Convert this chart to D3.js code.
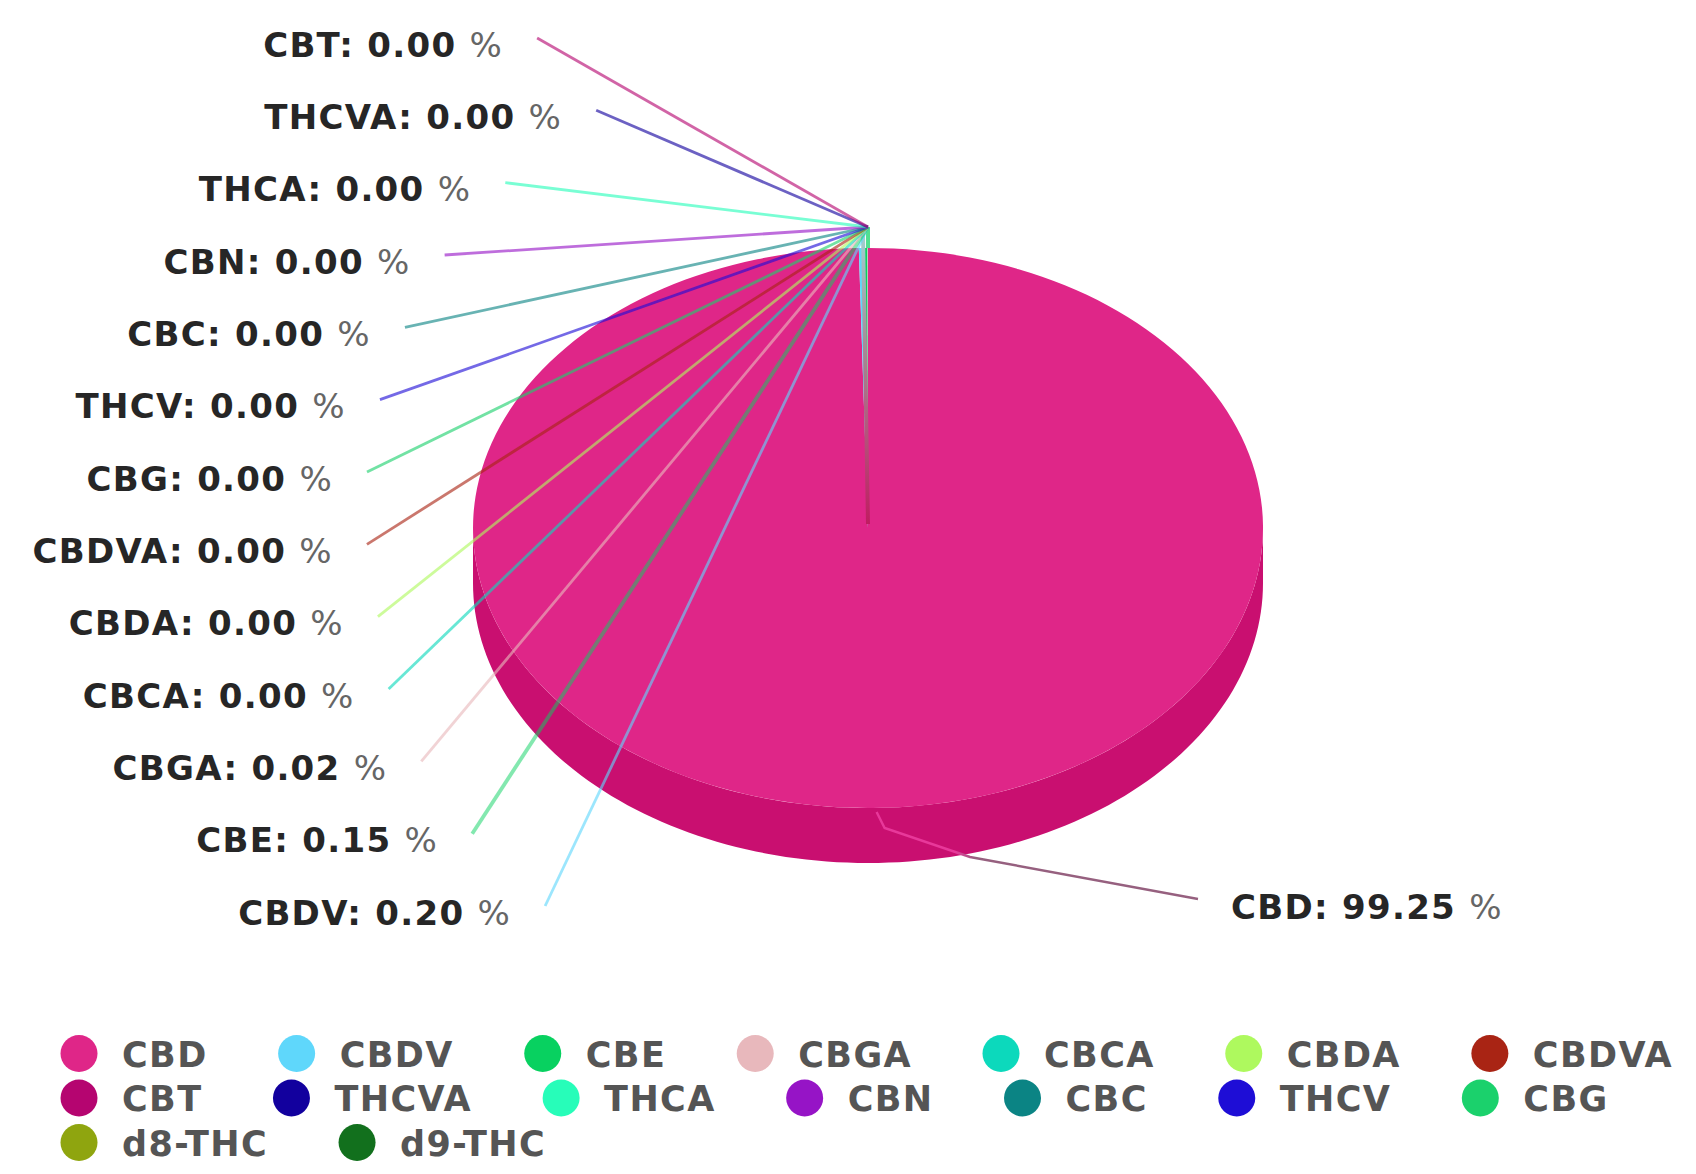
<!DOCTYPE html>
<html>
<head>
<meta charset="utf-8">
<script src="https://d3js.org/d3.v7.min.js"></script>
<style>
  html, body { margin: 0; padding: 0; background: #fff; }
</style>
</head>
<body>
<div id="chart"></div>
<script>
// Cannabinoid shares, in slice order
var names = ["CBD", "CBDV", "CBE", "CBGA", "CBCA", "CBDA", "CBDVA", "CBT", "THCVA", "THCA", "CBN", "CBC", "THCV", "CBG", "d8-THC", "d9-THC"];
var values = [99.25, 0.20, 0.15, 0.02, 0, 0, 0, 0, 0, 0, 0, 0, 0, 0, 0, 0];
var colors = ["#df2688", "#5fd7fb", "#08d160", "#e8b8bc", "#0cd9bc", "#aef95e", "#a92414", "#b50570", "#12009e", "#27fdb9", "#9614c6", "#0b8484", "#1e0dd6", "#1bd16c", "#8fa50f", "#12701d"];
// labels run down the left side, top to bottom
var leftLabels = ["CBT", "THCVA", "THCA", "CBN", "CBC", "THCV", "CBG", "CBDVA", "CBDA", "CBCA", "CBGA", "CBE", "CBDV"];

var width = 1696;
var height = 1174;

// pie geometry
var cx = 868, cy = 528, rx = 395, ry = 280, depth = 55;

var svg = d3.select("#chart")
  .append("svg")
    .attr("width", width)
    .attr("height", height)
    .style("display", "block");

var defs = svg.append("defs");

var color = d3.scaleOrdinal().domain(names).range(colors);

var slices = d3.pie().sort(null).value(function(d) { return d.value; })(
  names.map(function(n, i) { return { name: n, value: values[i] }; })
);
var sliceByName = {};
slices.forEach(function(s) { sliceByName[s.data.name] = s; });

// point on the ellipse, angle 0 is at the top, going clockwise
function project(angle, k) {
  return [cx + Math.sin(angle) * rx * k, cy - Math.cos(angle) * ry * k];
}

// Front wall of the pie
var line = d3.line();
slices.forEach(function(s) {
  var a0 = Math.max(s.startAngle, Math.PI / 2);
  var a1 = Math.min(s.endAngle, Math.PI * 1.5);
  if (a1 <= a0) return;
  var rim = d3.range(0, 121).map(function(i) { return project(a0 + (a1 - a0) * i / 120, 1); });
  var low = rim.map(function(p) { return [p[0], p[1] + depth]; }).reverse();
  svg.append("path")
    .attr("d", line(rim.concat(low)) + "Z")
    .attr("fill", "#c90f70");
});

// Top face
var arc = d3.arc().innerRadius(0).outerRadius(rx);
svg.append("g")
    .attr("transform", "translate(" + cx + "," + cy + ") scale(1," + (ry / rx) + ")")
  .selectAll("path")
  .data(slices)
  .join("path")
    .attr("d", arc)
    .attr("fill", function(d) { return color(d.data.name); });

// Label column on the left
var labelY = d3.scalePoint().domain(leftLabels).range([38, 906]);
var columnMid = 472, columnA = 501, columnB = 578;
// how far each label sits off the plain curve of the column
var labelNudge = [0, 119, 71, 41, 22, 9, 0, -4, -5, -15, -13, -5, 8];

function labelEnd(name, i) {
  var y = labelY(name);
  var t = (y - columnMid) / columnB;
  return [cx - columnA * Math.sqrt(1 - t * t) + labelNudge[i], y];
}

function addLabel(x, y, name, anchor) {
  var v = values[names.indexOf(name)];
  var t = svg.append("text")
    .attr("x", x)
    .attr("y", y)
    .attr("text-anchor", anchor)
    .attr("font-family", "DejaVu Sans")
    .attr("font-size", 34)
    .attr("letter-spacing", 1.3)
    .attr("fill", "#262626");
  t.append("tspan").attr("font-weight", "bold").text(name + ": " + v.toFixed(2) + " ");
  t.append("tspan").attr("fill", "#666").text("%");
}

// The stem up from the pie centre, all the small slices share it
var apex = project(0, 1.075);
var stemFade = defs.append("linearGradient")
    .attr("id", "stemFade")
    .attr("gradientUnits", "userSpaceOnUse")
    .attr("x1", 0).attr("x2", 0)
    .attr("y1", apex[1]).attr("y2", cy);
stemFade.append("stop").attr("offset", 0).attr("stop-color", "#9fd4d4");
stemFade.append("stop").attr("offset", 0.45).attr("stop-color", "#a9808f");
stemFade.append("stop").attr("offset", 1).attr("stop-color", "#c01a60");

svg.append("path")
  .attr("d", line([[cx, cy - 4], [cx - 5, apex[1] + 6]]))
  .attr("fill", "none")
  .attr("stroke", "url(#stemFade)")
  .attr("stroke-width", 4);
svg.append("path")
  .attr("d", line([apex, project(0, 1.0)]))
  .attr("fill", "none")
  .attr("stroke", color("CBE"))
  .attr("stroke-opacity", 0.7)
  .attr("stroke-width", 4);

// Connector lines, all of them leave from the point above the top edge
leftLabels.slice().reverse().forEach(function(name) {
  var i = leftLabels.indexOf(name);
  var end = labelEnd(name, i);
  svg.append("path")
    .attr("d", line([apex, end]))
    .attr("fill", "none")
    .attr("stroke", color(name))
    .attr("stroke-opacity", name == "CBE" ? 0.5 : 0.62)
    .attr("stroke-width", name == "CBE" ? 3.8 : 2.8);
  addLabel(end[0] - 34, end[1] + 18.5, name, "end");
});

// The big slice has its label on the right
var big = sliceByName["CBD"];
var bigAngle = (big.startAngle + big.endAngle) / 2;
var bigStart = project(bigAngle, 1.0);
var bigFade = defs.append("linearGradient")
    .attr("id", "bigFade")
    .attr("gradientUnits", "userSpaceOnUse")
    .attr("x1", 955).attr("x2", 975)
    .attr("y1", 0).attr("y2", 0);
bigFade.append("stop").attr("offset", 0).attr("stop-color", "#e8389a");
bigFade.append("stop").attr("offset", 1).attr("stop-color", "#96607f");
svg.append("path")
  .attr("d", line([[bigStart[0] + 4, bigStart[1] + 4], [bigStart[0] + 12, bigStart[1] + 20], [970, 857], [1198, 899]]))
  .attr("fill", "none")
  .attr("stroke", "url(#bigFade)")
  .attr("stroke-width", 2.4);
addLabel(1231, 919, "CBD", "start");

// Legend, wraps like a flowed row of items
var legendTop = 1053.5, rowStep = 44.5, legendLeft = 79, legendRight = 1690;
var legendX = legendLeft, legendRow = 0;
names.forEach(function(name) {
  var g = svg.append("g");
  var label = g.append("text")
    .attr("x", 43)
    .attr("y", 13)
    .attr("font-family", "DejaVu Sans")
    .attr("font-weight", "bold")
    .attr("font-size", 35)
    .attr("letter-spacing", 1.4)
    .attr("fill", "#555")
    .text(name);
  var w = label.node().getComputedTextLength();
  if (legendX + 43 + w > legendRight) {
    legendX = legendLeft;
    legendRow += 1;
  }
  g.attr("transform", "translate(" + legendX + "," + (legendTop + legendRow * rowStep) + ")");
  g.append("ellipse")
    .attr("rx", 18.5)
    .attr("ry", 18.5)
    .attr("fill", color(name));
  legendX += 43 + w + 89;
});
</script>
</body>
</html>
